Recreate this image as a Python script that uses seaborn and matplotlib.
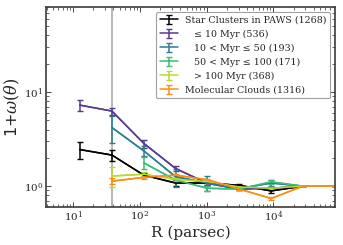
import numpy as np
import pandas as pd
import matplotlib
matplotlib.use("Agg")
import matplotlib.pyplot as plt
import seaborn as sns

# bin centres (parsec)
r_all = [12.5, 38, 114, 342, 1025, 3080, 9250, 27700, 84000]

labels = ["Star Clusters in PAWS (1268)",
          "   ≤ 10 Myr (536)",
          "   10 < Myr ≤ 50 (193)",
          "   50 < Myr ≤ 100 (171)",
          "   > 100 Myr (368)",
          "Molecular Clouds (1316)"]
colors = ["black", "#563a8f", "#2b7f91", "#3dbb78", "#b4dc2c", "#ff8c13"]

y_all = [2.45, 2.14, 1.31, 1.08, 1.08, 1.02, 0.89, 1.0, 1.0]
e_all = [0.52, 0.30, 0.07, 0.08, 0.05, 0.03, 0.05, 0.0, 0.0]

y_10 = [7.27, 6.28, 2.85, 1.54, 1.07, 0.93, 0.95, 1.0, 1.0]
e_10 = [1.05, 0.55, 0.28, 0.10, 0.05, 0.03, 0.04, 0.0, 0.0]

r_50 = [38, 114, 342, 1025, 3080, 9250, 27700, 84000]
y_50 = [4.2, 2.37, 1.26, 1.08, 0.94, 1.08, 1.0, 1.0]
e_50 = [1.3, 0.3, 0.28, 0.2, 0.03, 0.07, 0.0, 0.0]

r_100 = [114, 342, 1025, 3080, 9250, 27700, 84000]
y_100 = [1.77, 1.16, 0.95, 0.93, 1.11, 1.0, 1.0]
e_100 = [0.25, 0.05, 0.06, 0.03, 0.06, 0.0, 0.0]

r_old = [38, 114, 342, 1025, 3080, 9250, 27700, 84000]
y_old = [1.28, 1.34, 1.18, 1.12, 0.98, 0.95, 1.0, 1.0]
e_old = [0.3, 0.07, 0.04, 0.03, 0.02, 0.02, 0.0, 0.0]

r_mc = [38, 114, 342, 1025, 3080, 9250, 27700, 84000]
y_mc = [1.13, 1.24, 1.31, 1.17, 0.93, 0.74, 1.0, 1.0]
e_mc = [0.08, 0.05, 0.04, 0.03, 0.02, 0.02, 0.0, 0.0]

series = [(r_all, y_all, e_all), (r_all, y_10, e_10), (r_50, y_50, e_50),
          (r_100, y_100, e_100), (r_old, y_old, e_old), (r_mc, y_mc, e_mc)]

sns.set_theme(style="ticks")
plt.rcParams.update({
    "font.family": ["DejaVu Serif"],
    "mathtext.fontset": "dejavuserif",
    "xtick.direction": "in", "ytick.direction": "in",
    "xtick.top": True, "ytick.right": True,
    "xtick.minor.visible": True, "ytick.minor.visible": True,
    "xtick.labelsize": 7.5, "ytick.labelsize": 7.5,
    "axes.edgecolor": "#444444",
})

fig = plt.figure(figsize=(3.43, 2.45), dpi=100)
ax = fig.add_axes([0.134, 0.155, 0.843, 0.816])

ax.axvline(37.5, color="#aaaaaa", lw=1.2, zorder=0)

for (r, y, e), lab, c in zip(series, labels, colors):
    df = pd.DataFrame({"R": r, "w": y})
    sns.lineplot(data=df, x="R", y="w", ax=ax, color=c, lw=1.1, legend=False)
    ax.errorbar(r, y, yerr=e, fmt="-", color=c, lw=1.1, elinewidth=1.1,
                capsize=2.2, capthick=1.0, label=lab)

ax.set_xscale("log")
ax.set_yscale("log")
ax.set_xlim(3.9, 84000)
ax.set_ylim(0.6, 80)
ax.set_xlabel("R (parsec)", fontsize=11, labelpad=1)
ax.set_ylabel(r"1+$\omega(\theta)$", fontsize=11.5, labelpad=1,
              family=["DejaVu Sans"])
ax.tick_params(which="major", length=3.5, width=0.6, pad=2)
ax.tick_params(which="minor", length=2, width=0.5)

leg = ax.legend(loc="upper right", fontsize=6.8, frameon=True, fancybox=True,
                edgecolor="#888888", handlelength=2.0, handletextpad=0.7,
                labelspacing=0.52, borderaxespad=0.5, borderpad=0.4)
leg.get_frame().set_linewidth(0.8)

fig.savefig("out.png", dpi=100)
